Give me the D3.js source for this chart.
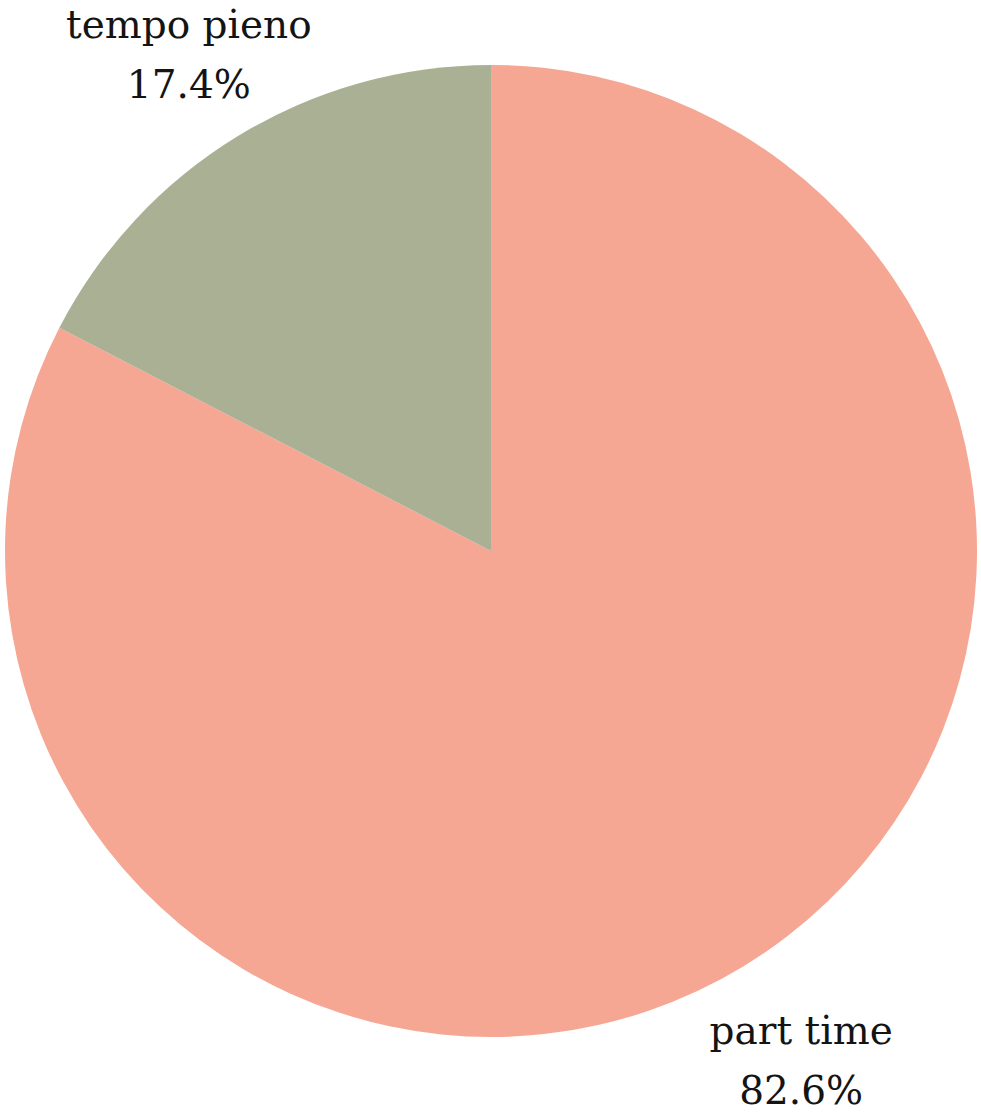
<!DOCTYPE html>
<html>
<head>
<meta charset="utf-8">
<script src="https://cdn.jsdelivr.net/npm/d3@7"></script>
<style>
  html, body { margin: 0; padding: 0; background: #ffffff; }
  svg { display: block; }
</style>
</head>
<body>
<div id="chart"></div>
<script>
const categories = ["part time", "tempo pieno"];
const values = [82.6, 17.4];
const labels = ["82.6%", "17.4%"];
const colors = ["#F5A793", "#AAB094"];

const width = 981, height = 1114;
const cx = 491, cy = 551, radius = 486, labelRadius = 589;

const svg = d3.select("#chart").append("svg")
  .attr("width", width).attr("height", height);

const data = categories.map((c, i) => ({ cat: c, value: values[i], label: labels[i], color: colors[i] }));

const pie = d3.pie().sort(null).value(d => d.value);
const arcs = pie(data);
const arc = d3.arc().innerRadius(0).outerRadius(radius);
const labelArc = d3.arc().innerRadius(labelRadius).outerRadius(labelRadius);

const g = svg.append("g").attr("transform", `translate(${cx},${cy})`);

g.selectAll("path.slice").data(arcs).join("path")
  .attr("class", "slice")
  .attr("d", arc)
  .attr("fill", d => d.data.color);

const txt = g.selectAll("text.lbl").data(arcs).join("text")
  .attr("class", "lbl")
  .attr("transform", d => { const [x, y] = labelArc.centroid(d); return `translate(${x + 4},${y})`; })
  .attr("text-anchor", "middle")
  .style("font-family", "'DejaVu Serif', serif")
  .style("font-size", "39px")
  .attr("fill", "#141414");

txt.append("tspan").attr("x", 0).attr("y", -10).text(d => d.data.cat);
txt.append("tspan").attr("x", 0).attr("y", 50).text(d => d.data.label);
</script>
</body>
</html>
